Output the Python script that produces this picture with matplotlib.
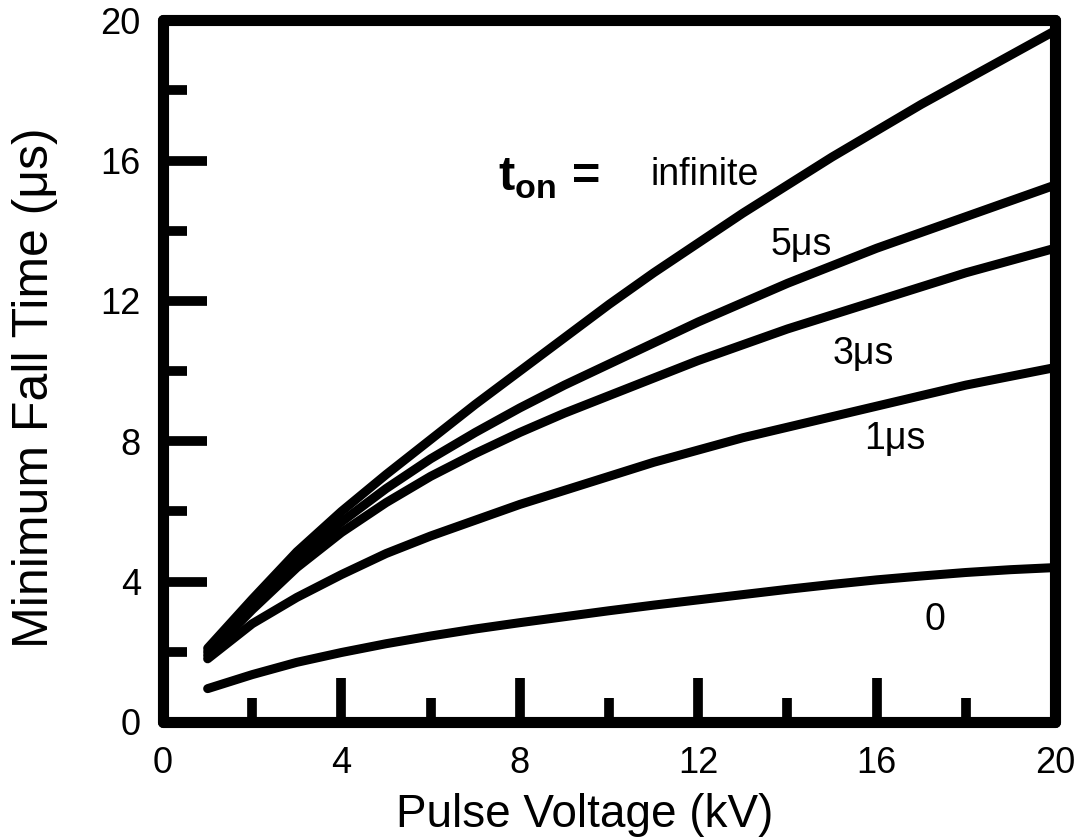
import matplotlib
matplotlib.use("Agg")
import matplotlib.pyplot as plt

plt.rcParams['font.family'] = ['Liberation Sans', 'DejaVu Sans']
plt.rcParams['mathtext.fontset'] = 'custom'
plt.rcParams['mathtext.rm'] = 'Liberation Sans'
plt.rcParams['mathtext.bf'] = 'Liberation Sans:bold'

# Pulse voltage (kV) sample points
voltage = [1, 2, 3, 4, 5, 6, 7, 8, 9, 10, 11, 12, 13, 14, 15, 16, 17, 18, 19, 20]

# Minimum fall time (us) for each on-time
fall_infinite = [2.1, 3.5, 4.85, 6.0, 7.05, 8.05, 9.05, 10.0, 10.95, 11.9,
                 12.8, 13.65, 14.5, 15.3, 16.1, 16.85, 17.6, 18.3, 19.0, 19.7]
fall_5us = [2.0, 3.35, 4.6, 5.7, 6.65, 7.5, 8.25, 8.95, 9.6, 10.2,
            10.8, 11.4, 11.95, 12.5, 13.0, 13.5, 13.95, 14.4, 14.85, 15.3]
fall_3us = [1.9, 3.2, 4.4, 5.4, 6.25, 7.0, 7.65, 8.25, 8.8, 9.3,
            9.8, 10.3, 10.75, 11.2, 11.6, 12.0, 12.4, 12.8, 13.15, 13.5]
fall_1us = [1.8, 2.8, 3.55, 4.2, 4.8, 5.3, 5.75, 6.2, 6.6, 7.0,
            7.4, 7.75, 8.1, 8.4, 8.7, 9.0, 9.3, 9.6, 9.85, 10.1]
fall_0 = [0.95, 1.35, 1.7, 1.98, 2.23, 2.45, 2.65, 2.83, 3.0, 3.17,
          3.33, 3.48, 3.63, 3.78, 3.92, 4.05, 4.16, 4.26, 4.34, 4.4]

x_major = [0, 4, 8, 12, 16, 20]
x_minor = [2, 6, 10, 14, 18]
y_major = [0, 4, 8, 12, 16, 20]
y_minor = [2, 6, 10, 14, 18]

fig = plt.figure(figsize=(10.87, 8.4), dpi=100)
ax = fig.add_axes([0.15, 0.1405, 0.8206, 0.8355])

for ys in [fall_infinite, fall_5us, fall_3us, fall_1us, fall_0]:
    ax.plot(voltage, ys, color='black', lw=6.5, solid_capstyle='round',
            solid_joinstyle='round', clip_on=False)

ax.set_xlim(0, 20)
ax.set_ylim(0, 20)

for s in ax.spines.values():
    s.set_linewidth(8)
    s.set_capstyle('round')

ax.set_xticks(x_major)
ax.set_xticks(x_minor, minor=True)
ax.set_yticks(y_major)
ax.set_yticks(y_minor, minor=True)
ax.tick_params(which='both', direction='in', width=7, top=False, right=False)
ax.tick_params(which='major', length=32, pad=17, labelsize=26)
ax.tick_params(which='minor', length=17)
ax.tick_params(axis='y', which='major', pad=16)

ax.set_xlabel('Pulse Voltage (kV)', fontsize=33, va='top')
ax.xaxis.set_label_coords(0.473, -0.101)
ax.set_ylabel('Minimum Fall Time (μs)', fontsize=36)
ax.yaxis.set_label_coords(-0.118, 0.477)

ax.text(7.5, 15.5, r'$\mathbf{t}_{\mathbf{on}}$' + ' =', fontsize=35,
        fontweight='bold', va='center', ha='left')
ax.text(12.15, 15.6, 'infinite', fontsize=27, ha='center', va='center')
ax.text(14.3, 13.6, '5μs', fontsize=27, ha='center', va='center')
ax.text(15.7, 10.5, '3μs', fontsize=27, ha='center', va='center')
ax.text(16.4, 8.05, '1μs', fontsize=27, ha='center', va='center')
ax.text(17.3, 2.9, '0', fontsize=27, ha='center', va='center')

fig.savefig('out.png', dpi=100)
